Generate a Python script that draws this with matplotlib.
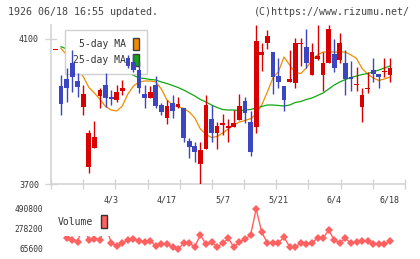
import numpy as np
import matplotlib.pyplot as plt
from matplotlib.patches import Patch

plt.rcParams['font.family'] = 'DejaVu Sans Mono'

# date labels on the x axis (index of the trading day)
date_labels = ['4/3', '4/17', '5/7', '5/21', '6/4', '6/18']
date_idx = [10, 20, 30, 40, 50, 60]

# daily prices
opens = [4069, 3970, 3990, 4034.6, 3984, 3913.2, 3747.7, 3798.5, 3943.6, 3973,
         3940.8, 3931.7, 3957.4, 4048.4, 4037, 4014.5, 3948.3, 3938, 3973, 3918,
         3883, 3922.6, 3913, 3910.5, 3818.6, 3805.7, 3754.3, 3796.6, 3879.3, 3840,
         3862.8, 3853.6, 3858, 3876.6, 3929, 3872, 3858, 4055.9, 4088, 4063.3,
         3998, 3970, 3982, 3977.8, 4086, 4077, 4000.7, 4044, 4000.7, 4033,
         4057.8, 4042, 4033, 3996, 3973, 3913, 3963, 4014.5, 4002.6, 4008,
         4000.7]
highs = [4071, 4001, 4019, 4069.7, 4005.4, 3973, 3849, 3873.8, 3965.7, 4005.4,
         3959.3, 3973, 3987, 4055.9, 4058, 4037.4, 3973, 3970, 3998, 3923.4,
         3931.7, 3945.5, 3941, 3911, 3826, 3816.7, 3816.7, 3945.5, 3918, 3872,
         3892.3, 3878.5, 3904, 3947.5, 3941, 3901.4, 4138, 4088, 4125, 4063.3,
         4046.8, 3970, 4069.7, 4102, 4102, 4127.6, 4088, 4138, 4065, 4138,
         4100, 4115.7, 4069.7, 4039, 4023.6, 3965.7, 4010, 4048.4, 4002.6, 4046.8,
         4046.8]
lows = [4069, 3890, 3927, 3954.6, 3940.8, 3890, 3729.5, 3798.5, 3908.8, 3913.2,
        3918, 3927, 3945.5, 4019, 4010, 3950.2, 3908.8, 3938, 3908.8, 3890,
        3865.5, 3883, 3908.8, 3815, 3772.6, 3761.5, 3697, 3796.6, 3816.7, 3796.6,
        3835, 3816.7, 3858, 3876.6, 3867.5, 3778, 3840, 4011.7, 4072, 3947.5,
        3964, 3901.4, 3982, 3964, 4026, 4019, 4000.7, 4042, 3957.4, 4033,
        4010, 4033, 3945.5, 3956.5, 3956.5, 3872, 3950, 3982, 3964, 3996,
        3982]
closes = [4071, 3921, 3964, 3994.3, 3968.4, 3947.5, 3841.5, 3828.8, 3959.3, 3938,
          3934.5, 3954.6, 3965.7, 4026.3, 4014.5, 3964, 3938, 3953, 3916, 3897.8,
          3915, 3902.2, 3920, 3827.7, 3801, 3789, 3793.8, 3918, 3840, 3860,
          3869, 3861, 3869, 3915, 3896.7, 3789, 4094.5, 4063.3, 4108, 3996,
          3982, 3931.7, 3989.7, 4088, 4088, 4033, 4063.3, 4053, 4033, 4127.6,
          4020.8, 4088, 3989.7, 3989, 3975, 3945.5, 3966, 4002.6, 3996, 4010,
          4019]

ma5 = [np.nan, 4074.3, 4055.9, 4036.6, 4014.5, 3996.0, 3966.2, 3951.0, 3933.1, 3913.8,
       3904.1, 3901.4, 3915.2, 3948.3, 3970.3, 3981.4, 3984.1, 3984.1, 3981.4, 3962.1,
       3931.7, 3917.9, 3913.2, 3908.3, 3898.6, 3882.1, 3851.7, 3836.6, 3828.3, 3831.0,
       3840.7, 3851.7, 3862.8, 3871.0, 3875.2, 3880.1, 3893.1, 3917.9, 3953.8, 3992.4,
       4010.3, 4050.3, 4028.3, 4007.6, 4004.8, 4020.0, 4042.1, 4055.9, 4064.1, 4064.1,
       4064.1, 4064.1, 4064.1, 4055.9, 4046.2, 4018.6, 4003.4, 3992.4, 3985.5, 3989.7,
       3995.2]
ma25 = [np.nan, 4078.8, 4072.7, 4066.3, 4060.3, 4054.2, 4047.9, 4041.8, 4035.7, 4029.4,
        4023.3, 4017.2, 4012.0, 4006.0, 4000.0, 3992.4, 3991.0, 3988.3, 3986.9, 3981.4,
        3977.2, 3971.7, 3966.2, 3959.3, 3951.0, 3942.8, 3933.1, 3926.2, 3917.9, 3911.0,
        3905.5, 3904.1, 3904.1, 3902.8, 3904.1, 3905.5, 3909.7, 3913.8, 3917.9, 3917.9,
        3916.6, 3915.2, 3917.9, 3924.8, 3927.6, 3933.1, 3937.2, 3944.1, 3951.0, 3962.1,
        3973.1, 3981.4, 3988.3, 3993.8, 3997.9, 4002.1, 4004.8, 4009.0, 4014.5, 4020.0,
        4025.5]

volume = [300000, 300000, 179300, 161300, 143200, 330000, 161300, 168700, 161300, 320000,
          132500, 97500, 126200, 161300, 168700, 153800, 143200, 153800, 97500, 118700,
          118700, 83700, 65600, 126200, 126200, 90400, 214400, 115400, 143200, 90400,
          126200, 179300, 83700, 143200, 168700, 214400, 490800, 243100, 132500, 132500,
          132500, 189900, 90400, 90400, 126200, 115400, 132500, 179300, 179300, 267600,
          161300, 132500, 179300, 126200, 143200, 150000, 150000, 115400, 115400, 115400,
          150000]
vol_ticks = [65600, 278200, 490800]

RED = '#d80000'
BLUE = '#3c46c0'
GRID = '#d4d4d4'
TXT = '#333333'

fig = plt.figure(figsize=(4.2, 2.59), dpi=100)

fig.text(8 / 420, 1 - 12 / 259, '1926 06/18 16:55 updated.', fontsize=7.2,
         color='#444444', va='center', ha='left')
fig.text(410 / 420, 1 - 12 / 259, '(C)https://www.rizumu.net/', fontsize=7.2,
         color='#444444', va='center', ha='right')

# price panel
ax = fig.add_axes([51 / 420, 75 / 259, 354 / 420, 159 / 259])
x = np.arange(len(opens))
o = np.array(opens)
c = np.array(closes)
up = c >= o
colors = np.where(up, RED, BLUE)
body = np.maximum(np.abs(c - o), 2.5)
bottom = np.minimum(o, c)

ax.vlines(x, lows, highs, colors=colors, linewidth=1.0, zorder=3)
ax.bar(x, body, bottom=bottom, width=0.85, color=colors, linewidth=0, zorder=3.1)

ax.plot(x, ma5, color='#f08c00', linewidth=0.9, zorder=2)
ax.plot(x, ma25, color='#10a810', linewidth=0.9, zorder=2)

ax.set_xlim(-0.79, 62.69)
ax.set_ylim(3700, 4138.6)

for s in ['top', 'right']:
    ax.spines[s].set_visible(False)
for s in ['left', 'bottom']:
    ax.spines[s].set_color(GRID)
    ax.spines[s].set_linewidth(1.2)

ax.set_yticks([3700, 4100])
ax.set_yticklabels(['3700', '4100'])
ax.tick_params(axis='y', direction='inout', length=8.6, width=1, color=GRID,
               labelsize=6, labelcolor=TXT, pad=4.3)
ax.set_xticks(date_idx)
ax.set_xticklabels(date_labels)
ax.tick_params(axis='x', which='major', length=0, labelsize=6, labelcolor=TXT, pad=8)
ax.set_xticks(np.linspace(-0.79, 62.69, 12), minor=True)
ax.tick_params(axis='x', which='minor', direction='inout', length=6.5, width=1, color=GRID)

handles = [Patch(facecolor='#f08c00', edgecolor='#404040', label='5-day MA'),
           Patch(facecolor='#10a810', edgecolor='#404040', label='25-day MA')]
leg = ax.legend(handles=handles, loc='upper left', bbox_to_anchor=((65 - 51) / 354, 1 - 5 / 159),
                borderaxespad=0, fontsize=7, markerfirst=False, handlelength=0.62,
                handleheight=1.54, handletextpad=0.8, labelspacing=0.4, borderpad=0.8,
                fancybox=False, framealpha=1, edgecolor='#d0d0d0', facecolor='white')
leg.get_frame().set_linewidth(1)
for t in leg.get_texts():
    t.set_color(TXT)
leg.set_zorder(2.5)

# volume panel
vax = fig.add_axes([51 / 420, 7 / 259, 354 / 420, 46 / 259])
vax.plot(x, volume, color='#ff6060', linewidth=1, marker='D', markersize=4.5,
         markeredgewidth=0, zorder=2, clip_on=False)
vax.set_xlim(-0.79, 62.69)
vax.set_ylim(33710, 522690)
for s in vax.spines.values():
    s.set_visible(False)
vax.set_xticks([])
vax.set_yticks(vol_ticks)
vax.set_yticklabels([str(v) for v in vol_ticks])
vax.tick_params(axis='y', length=0, labelsize=5.7, labelcolor=TXT, pad=5.8)
vleg = vax.legend(handles=[Patch(facecolor='#ff6060', edgecolor='#333333', label='Volume')],
                  loc='upper left', bbox_to_anchor=(-0.006, 0.985), borderaxespad=0,
                  fontsize=7, markerfirst=False, handlelength=0.62, handleheight=1.54,
                  handletextpad=0.8, borderpad=0.9, fancybox=False, framealpha=1,
                  edgecolor='none', facecolor='white')
vleg.get_texts()[0].set_color(TXT)
vleg.set_zorder(5)

fig.savefig('out.png', dpi=100)
